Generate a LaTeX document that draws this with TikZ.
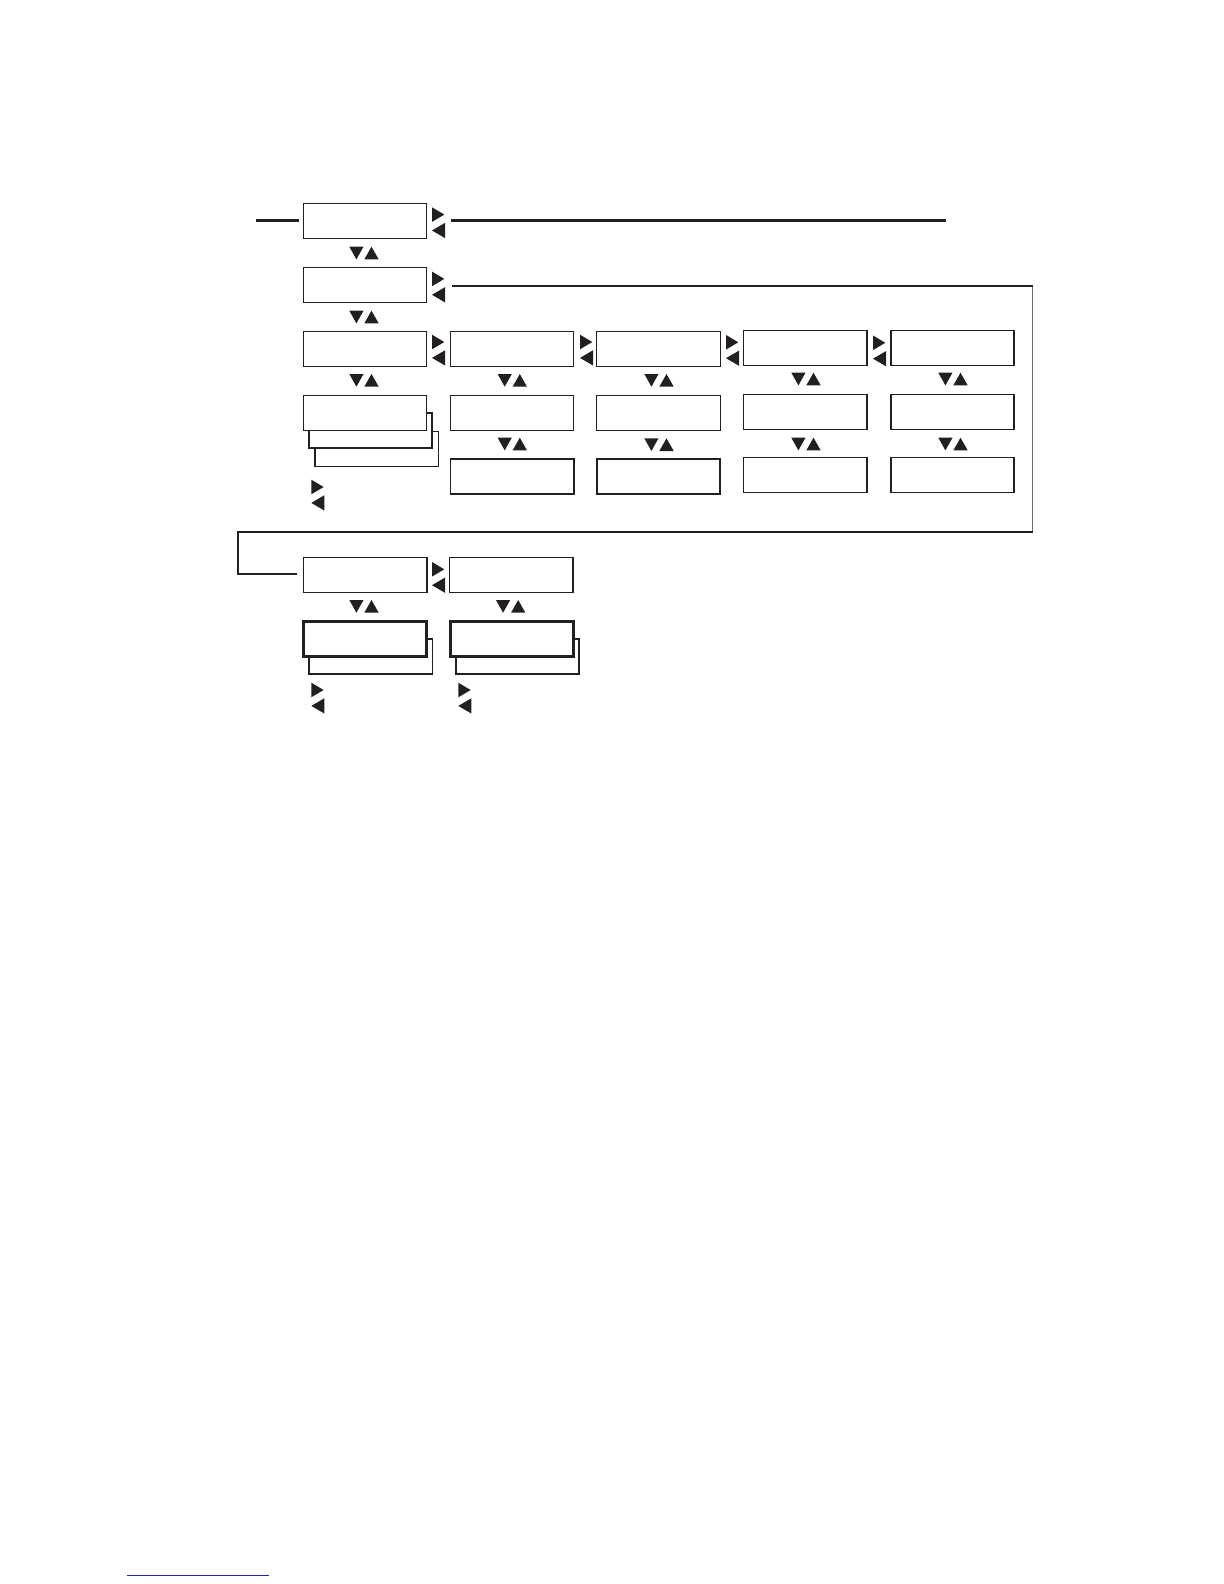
\documentclass[tikz,border=0pt]{standalone}
\definecolor{ink}{HTML}{231F20}
\definecolor{linkblue}{HTML}{1C28B0}
\tikzset{
  box/.style={draw=ink,fill=white,line width=0.65pt,inner sep=0pt,outer sep=0pt,minimum width=61.7pt,minimum height=17.5pt},
  boxmid/.style={box,line width=0.8pt},
  boxheavy/.style={box,line width=1.35pt},
  backbox/.style={box,line width=0.95pt},
  backthin/.style={box,line width=0.8pt},
  route/.style={draw=ink,line width=0.85pt},
  routeheavy/.style={draw=ink,line width=1.35pt},
  routeedge/.style={draw=ink!65,line width=0.6pt},
  tri/.style={fill=ink,draw=none},
  lr/.pic={\fill[tri] (0,0) -- (12.3,7.3) -- (0,14.6) -- cycle;
           \fill[tri] (13,15.6) -- (0,23.2) -- (13,30.8) -- cycle;},
  ud/.pic={\fill[tri] (-14.7,0) -- (-0.5,0) -- (-7.6,12.7) -- cycle;
           \fill[tri] (0.3,12.7) -- (14.7,12.7) -- (7.5,0) -- cycle;}
}
\begin{document}
\begin{tikzpicture}[x=0.5pt,y=-0.5pt]
\useasboundingbox (0,0) rectangle (1224,1584);
% boxes stacked behind
\node[backthin] (s3) at (376.6,449) {};
\node[backbox] (s2) at (370.6,430.4) {};
\node[backthin] (s5) at (370.6,656.6) {};
\node[backthin] (s6) at (517.5,656.6) {};
% first column
\node[box] (a1) at (365,220.8) {};
\node[box] (a2) at (365,284.8) {};
\node[box] (a3) at (365,348.8) {};
\node[box] (a4) at (365,412.8) {};
% second column
\node[box] (b1) at (512,348.8) {};
\node[box] (b2) at (512,412.8) {};
\node[boxmid] (b3) at (512,476.3) {};
% third column
\node[box] (c1) at (658.5,348.8) {};
\node[box] (c2) at (658.5,412.8) {};
\node[boxmid] (c3) at (658.5,476.3) {};
% fourth column
\node[boxmid] (d1) at (805.3,348) {};
\node[boxmid] (d2) at (805.3,412) {};
\node[boxmid] (d3) at (805.3,475) {};
% fifth column
\node[boxmid] (e1) at (952.5,348) {};
\node[boxmid] (e2) at (952.5,412) {};
\node[boxmid] (e3) at (952.5,475) {};
% lower group
\node[boxmid] (f1) at (365,575) {};
\node[boxmid] (g1) at (511.3,575) {};
\node[boxheavy] (f2) at (365,638.8) {};
\node[boxheavy] (g2) at (512,638.8) {};
% top rule
\coordinate (t1) at (256,220.3);
\coordinate (t2) at (299,220.3);
\coordinate (t3) at (451,220.3);
\coordinate (t4) at (946,220.3);
\draw[routeheavy] (t1) -- (t2);
\draw[routeheavy] (t3) -- (t4);
% routed line
\coordinate (r1) at (452,285.7);
\coordinate (r2) at (1032.7,285.7);
\coordinate (r3) at (1032.7,531.7);
\coordinate (r4) at (237.7,531.7);
\coordinate (r5) at (237.7,574.3);
\coordinate (r6) at (297,574.3);
\draw[routeedge] (r2) -- (r3);
\draw[route] (r1) -- (r2);
\draw[route,line join=miter] (r3) -- (r4) -- (r5) -- (r6);
% left-right triangle pairs
\pic at (432,207.3) {lr};
\pic at (432,271.6) {lr};
\pic at (432,334.7) {lr};
\pic at (580,334.7) {lr};
\pic at (726,335) {lr};
\pic at (873,335.5) {lr};
\pic at (311.3,479.7) {lr};
\pic at (432,562) {lr};
\pic at (311.3,682.7) {lr};
\pic at (458.3,682.7) {lr};
% down-up triangle pairs
\pic at (364,246.7) {ud};
\pic at (364,310.7) {ud};
\pic at (364,374) {ud};
\pic at (512.3,374) {ud};
\pic at (512.3,437.7) {ud};
\pic at (659,374) {ud};
\pic at (659,438.3) {ud};
\pic at (806,372.7) {ud};
\pic at (806,437.7) {ud};
\pic at (953,372.7) {ud};
\pic at (953,437.7) {ud};
\pic at (364,600) {ud};
\pic at (510.7,600) {ud};
% rule at the page foot
\coordinate (u1) at (127,1575.3);
\coordinate (u2) at (269,1575.3);
\draw[linkblue,line width=0.7pt] (u1) -- (u2);
\end{tikzpicture}
\end{document}
